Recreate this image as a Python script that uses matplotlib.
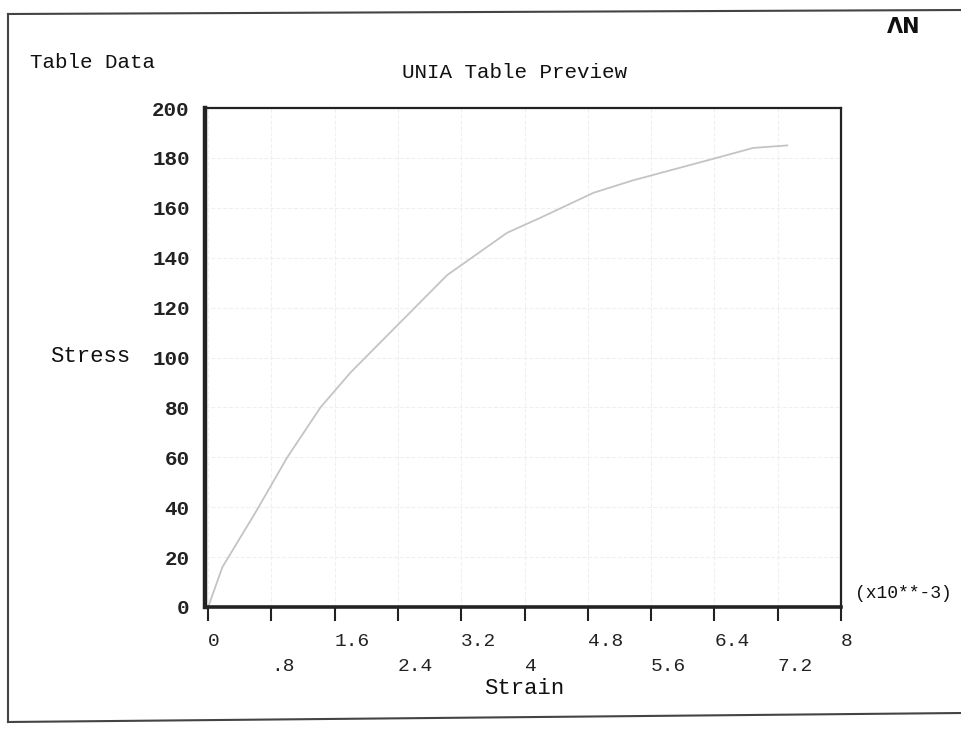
import numpy as np
import matplotlib
matplotlib.use("Agg")
import matplotlib.pyplot as plt
from matplotlib.lines import Line2D

# stress-strain table (strain in 1e-3)
strain = [0, 0.18, 0.6, 1.0, 1.42, 1.8, 2.52, 3.02, 3.78, 4.2, 4.87, 5.37, 6.31, 6.89, 7.32]
stress = [0, 16, 38, 60, 80, 94, 117, 133, 150, 156, 166, 171, 179, 184, 185]

x_ticks = [0, 0.8, 1.6, 2.4, 3.2, 4.0, 4.8, 5.6, 6.4, 7.2, 8.0]
x_labels = ['0', '.8', '1.6', '2.4', '3.2', '4', '4.8', '5.6', '6.4', '7.2', '8']
y_ticks = [0, 20, 40, 60, 80, 100, 120, 140, 160, 180, 200]

mono = 'Liberation Mono'

fig = plt.figure(figsize=(9.62, 7.29), dpi=100)
W, H = 962, 729

ax = fig.add_axes([205 / W, 1 - 607 / H, 636 / W, 499 / H])
ax.plot(strain, stress, color='#c4c4c4', lw=1.3)

ax.set_xlim(-0.04, 8)
ax.set_ylim(0, 200)

# staggered x labels: even ticks on upper row, odd ticks one line lower
ax.set_xticks(x_ticks)
ax.set_xticklabels([lab if i % 2 == 0 else '\n' + lab for i, lab in enumerate(x_labels)],
                   fontfamily=mono, fontsize=14, ha='left', linespacing=1.6)
ax.tick_params(axis='x', direction='out', length=10, width=1.5, pad=9, colors='#222222')
ax.set_yticks(y_ticks)
ax.set_yticklabels([str(v) for v in y_ticks], fontfamily=mono, fontsize=15, fontweight='bold')
ax.tick_params(axis='y', length=0, pad=11, colors='#222222')

ax.grid(True, color='#f0f0f0', lw=0.8, ls='--')
ax.spines['left'].set_linewidth(3.2)
ax.spines['bottom'].set_linewidth(2.6)
ax.spines['top'].set_linewidth(1.6)
ax.spines['right'].set_linewidth(1.6)
for s in ax.spines.values():
    s.set_color('#222222')

# texts around the plot
fig.text(30 / W, 1 - 62 / H, 'Table Data', fontfamily=mono, fontsize=15,
         ha='left', va='center', color='#111111')
fig.text(515 / W, 1 - 72 / H, 'UNIA Table Preview', fontfamily=mono, fontsize=15,
         ha='center', va='center', color='#111111')
fig.text(904 / W, 1 - 27 / H, 'ΛN', fontfamily='DejaVu Sans', fontsize=15,
         fontweight='bold', ha='center', va='center', color='#111111')
fig.text(50 / W, 1 - 357 / H, 'Stress', fontfamily=mono, fontsize=16,
         ha='left', va='center', color='#111111')
fig.text(524 / W, 1 - 688 / H, 'Strain', fontfamily=mono, fontsize=16,
         ha='center', va='center', color='#111111')
fig.text(855 / W, 1 - 594 / H, '(x10**-3)', fontfamily=mono, fontsize=13,
         ha='left', va='center', color='#111111')

# outer frame of the preview window
frame = dict(color='#444444', lw=1.5, transform=fig.transFigure)
fig.add_artist(Line2D([8 / W, 1], [1 - 14 / H, 1 - 10 / H], **frame))
fig.add_artist(Line2D([8 / W, 8 / W], [1 - 14 / H, 1 - 722 / H], **frame))
fig.add_artist(Line2D([8 / W, 1], [1 - 722 / H, 1 - 713 / H], **frame))

fig.savefig('out.png', dpi=100)
